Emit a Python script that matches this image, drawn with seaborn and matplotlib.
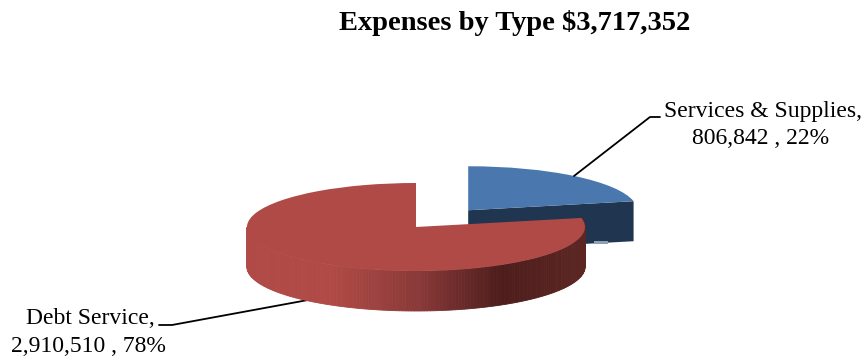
import numpy as np
import matplotlib
matplotlib.use("Agg")
import matplotlib.pyplot as plt
from matplotlib.transforms import Affine2D
import seaborn as sns

categories = ["Services & Supplies", "Debt Service"]
values = [806842, 2910510]
percents = ["22%", "78%"]
title = "Expenses by Type $3,717,352"

W, H = 864, 362
CX, CY, RX, RY = 416, 227, 169, 44   # pie centre and radii in pixels
DEPTH = 40 / RY

sns.set_theme(style="white")
plt.rcParams["font.family"] = ["Liberation Serif", "DejaVu Serif"]

fig = plt.figure(figsize=(W / 100, H / 100), dpi=100, facecolor="white")
ax = fig.add_axes([0, 0, 1, 1])
wedges, _ = ax.pie(values, colors=["#4a78ae", "#b04a46"], startangle=90,
                   counterclock=False, explode=[0.49, 0], radius=1,
                   wedgeprops=dict(linewidth=0))
ax.set_aspect("auto")
ax.set_xlim(-CX / RX, (W - CX) / RX)
ax.set_ylim(-(H - CY) / RY, CY / RY)
ax.axis("off")

blue, red = wedges
blue.set_zorder(2)
red.set_zorder(5)

# Blue slice: dark cut face below its lower radial edge
bx, by = blue.center
end = np.deg2rad(blue.theta1)
ex, ey = bx + np.cos(end), by + np.sin(end)
ax.fill([bx, ex, ex, bx], [by, ey, ey - DEPTH, by - DEPTH],
        color="#1f3550", lw=0, zorder=1)
ax.fill([ex - 0.235, ex - 0.15, ex - 0.15, ex - 0.235],
        [ey - DEPTH, ey - DEPTH, ey - DEPTH - 0.07, ey - DEPTH - 0.07],
        color="#8fa0b4", lw=0, zorder=1)

# Red slice: outer wall with a horizontal gradient
pal = sns.blend_palette(["#b04a46", "#b04a46", "#8a3a38", "#4d1d1c", "#5c2623"], 101)
t1 = 180
t2 = red.theta2 if red.theta2 > 180 else red.theta2 + 360
if red.theta1 + 360 > 180 and red.theta2 < 180:
    t2 = red.theta2 + 360
edges = np.linspace(t1, t2, 181)
for a, b in zip(edges[:-1], edges[1:]):
    aa = np.deg2rad([a, b])
    xs = np.cos(aa)
    ys = np.sin(aa)
    k = int(np.clip((xs.mean() + 1) / 2 * 100, 0, 100))
    ax.fill([xs[0], xs[1], xs[1], xs[0]],
            [ys[0], ys[1], ys[1] - DEPTH, ys[0] - DEPTH],
            color=pal[k], lw=0.6, zorder=4)

# Leader lines and labels, in image pixels
px = Affine2D().scale(1, -1).translate(0, H)
ax.plot([574, 650, 660], [176, 117, 117], color="black", lw=1.3,
        transform=px, zorder=3, clip_on=False)
ax.plot([159, 172, 308], [325, 325, 300], color="black", lw=1.3,
        transform=px, zorder=3, clip_on=False)

fig.text(515 / W, 1 - 23 / H, title.replace("$", r"\$"), ha="center", va="center",
         fontsize=20.5, fontweight="bold", color="black")
fig.text(763 / W, 1 - 112 / H, f"{categories[0]},", ha="center", va="center",
         fontsize=17, color="black")
fig.text(761 / W, 1 - 139 / H, f"{values[0]:,} , {percents[0]}", ha="center", va="center",
         fontsize=17, color="black")
fig.text(90 / W, 1 - 319 / H, f"{categories[1]},", ha="center", va="center",
         fontsize=17, color="black")
fig.text(88 / W, 1 - 346 / H, f"{values[1]:,} , {percents[1]}", ha="center", va="center",
         fontsize=17, color="black")

fig.savefig("out.png", dpi=100, facecolor="white")
